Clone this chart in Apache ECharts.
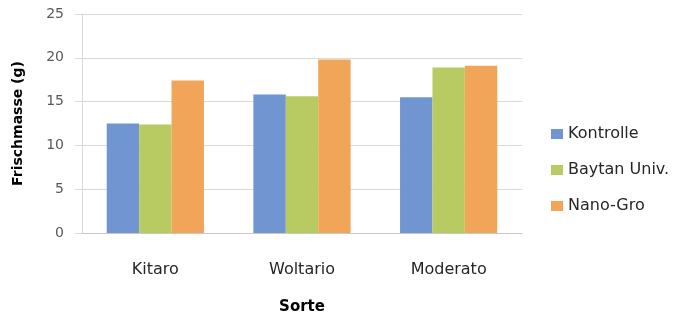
<!DOCTYPE html>
<html>
<head>
<meta charset="utf-8">
<script src="https://cdn.jsdelivr.net/npm/echarts@6/dist/echarts.min.js"></script>
<style>
  html, body { margin: 0; padding: 0; background: #fff; }
  #chart { width: 687px; height: 320px; }
</style>
</head>
<body>
<div id="chart"></div>
<script>
// Fresh mass per variety and treatment
const categories = ['Kitaro', 'Woltario', 'Moderato'];
const seriesNames = ['Kontrolle', 'Baytan Univ.', 'Nano-Gro'];
const kontrolle = [12.5, 15.8, 15.5];
const baytan = [12.4, 15.6, 18.9];
const nanoGro = [17.4, 19.8, 19.1];
const yTicks = [0, 5, 10, 15, 20, 25];

const colors = ['#7095d0', '#b8cb62', '#f1a558'];
const font = '"DejaVu Sans", Verdana, sans-serif';
const gridGray = '#d9d9d9';

const chart = echarts.init(document.getElementById('chart'), null, { renderer: 'canvas' });

const values = [kontrolle, baytan, nanoGro];

chart.setOption({
  animation: false,
  backgroundColor: '#ffffff',
  color: colors,
  grid: { left: 82, right: 165, top: 14, bottom: 85, containLabel: false },
  legend: {
    orient: 'vertical',
    left: 551,
    top: 126,
    padding: 0,
    itemWidth: 12,
    itemHeight: 10,
    itemGap: 20,
    icon: 'rect',
    textStyle: { fontFamily: font, fontSize: 16, color: '#262626' },
    data: seriesNames
  },
  xAxis: {
    type: 'category',
    data: categories,
    name: 'Sorte',
    nameLocation: 'middle',
    nameGap: 67,
    nameTextStyle: { fontFamily: font, fontSize: 15, fontWeight: 'bold', color: '#000' },
    axisLine: { show: true, lineStyle: { color: '#c8c8c8', width: 1 } },
    axisTick: { show: false },
    axisLabel: { fontFamily: font, fontSize: 16, color: '#262626', margin: 29 }
  },
  yAxis: {
    type: 'value',
    min: yTicks[0],
    max: yTicks[yTicks.length - 1],
    interval: 5,
    name: 'Frischmasse (g)',
    nameLocation: 'middle',
    nameGap: 57,
    nameRotate: 90,
    nameTextStyle: { fontFamily: font, fontSize: 14, fontWeight: 'bold', color: '#000' },
    axisLine: { show: true, lineStyle: { color: gridGray, width: 1 } },
    axisTick: { show: true, inside: false, length: 7, lineStyle: { color: gridGray } },
    axisLabel: { fontFamily: font, fontSize: 14, color: '#595959', margin: 18 },
    splitLine: { show: true, lineStyle: { color: gridGray, width: 1 } }
  },
  series: seriesNames.map((name, i) => ({
    name: name,
    type: 'bar',
    data: values[i],
    barGap: '0%',
    barCategoryGap: '33.7%',
    itemStyle: { color: colors[i] }
  }))
});
</script>
</body>
</html>
